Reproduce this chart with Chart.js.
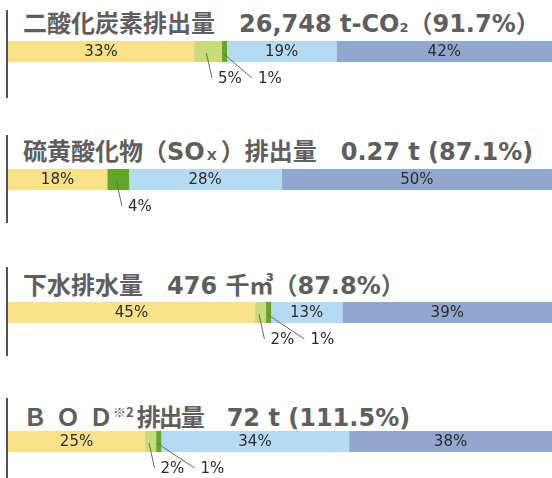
<!DOCTYPE html>
<html lang="ja">
<head>
<meta charset="utf-8">
<script src="https://cdn.jsdelivr.net/npm/chart.js@4"></script>
<style>
  body { margin: 0; width: 552px; height: 478px; background: #fff; overflow: hidden; position: relative; }
  .vline { position: absolute; left: 6px; width: 2px; background: #555; }
  .titulo { position: absolute; left: 23px; white-space: nowrap; color: #5e5e5e; font-size: 24px; line-height: 28px; font-family: "Noto Sans CJK JP"; font-weight: 700; }
  .num { font-family: "DejaVu Sans"; font-weight: 700; }
  .sub { font-family: "DejaVu Sans"; font-weight: 700; font-size: 13px; }
  .sup { font-family: "Noto Sans CJK JP"; font-weight: 700; font-size: 13px; vertical-align: 9px; }
  canvas { position: absolute; left: 0; }
</style>
</head>
<body>

<div class="vline" style="top:10px;height:88px"></div>
<div class="titulo" style="top:8px">二酸化炭素排出量　<span class="num">26,748 t-CO</span><span class="sub">2</span>（<span class="num">91.7%</span>）</div>
<canvas id="grafico1" width="552" height="60" style="top:41px"></canvas>

<div class="vline" style="top:135px;height:88px"></div>
<div class="titulo" style="top:136px">硫黄酸化物（<span class="num">SO</span><span class="sub" style="padding:0 4px 0 2px">X</span>）排出量　<span class="num">0.27 t (87.1%)</span></div>
<canvas id="grafico2" width="552" height="60" style="top:169px"></canvas>

<div class="vline" style="top:267px;height:89px"></div>
<div class="titulo" style="top:270px">下水排水量　<span class="num">476 </span>千㎥（<span class="num">87.8%</span>）</div>
<canvas id="grafico3" width="552" height="60" style="top:302px"></canvas>

<div class="vline" style="top:398px;height:80px"></div>
<div class="titulo" style="top:398px"><span style="letter-spacing:9px">ＢＯ</span>Ｄ<span class="sup">※2</span><span style="letter-spacing:-2px;margin-left:3px">排出量</span>　<span class="num">72 t (111.5%)</span></div>
<canvas id="grafico4" width="552" height="60" style="top:431px"></canvas>

<script>
const segmentos = ['区分1', '区分2', '区分3', '区分4', '区分5'];
const cores = ['#f9e18a', '#c8da7a', '#62a62a', '#b7daf3', '#92a7cf'];

// larguras (% da barra) e os rótulos impressos
const co2Valores = [34.2, 5.1, 0.9, 20.2, 39.6];
const co2Rotulos = ['33%', '5%', '1%', '19%', '42%'];

const soxValores = [18.2, 0, 4.0, 28.1, 49.7];
const soxRotulos = ['18%', '', '4%', '28%', '50%'];

const aguaValores = [45.4, 2.0, 0.9, 13.2, 38.5];
const aguaRotulos = ['45%', '2%', '1%', '13%', '39%'];

const bodValores = [25.2, 2.0, 0.9, 34.6, 37.3];
const bodRotulos = ['25%', '2%', '1%', '34%', '38%'];

const rotulosPlugin = {
  id: 'rotulos',
  afterDatasetsDraw(chart) {
    const ctx = chart.ctx;
    const textos = chart.options.plugins.rotulos.textos;
    let proxX = null;
    ctx.save();
    ctx.font = '15px "DejaVu Sans"';
    ctx.textBaseline = 'middle';
    chart.data.datasets.forEach((ds, i) => {
      const v = ds.data[0];
      if (!textos[i] || v === 0) return;
      const bar = chart.getDatasetMeta(i).data[0];
      const meio = (bar.base + bar.x) / 2;
      const topo = bar.y - bar.height / 2;
      const baixo = bar.y + bar.height / 2;
      if (v >= 6) {
        ctx.textAlign = 'center';
        ctx.fillStyle = '#2b2b2b';
        ctx.fillText(textos[i], meio, bar.y + 1);
      } else {
        const tx = proxX === null ? meio + 10 : proxX + 40;
        ctx.strokeStyle = '#666';
        ctx.lineWidth = 1;
        ctx.beginPath();
        ctx.moveTo(meio - 1.5, topo + 12);
        ctx.lineTo(tx - 6, baixo + 16);
        ctx.stroke();
        ctx.textAlign = 'left';
        ctx.fillStyle = '#2b2b2b';
        ctx.fillText(textos[i], tx, baixo + 17);
        proxX = tx;
      }
    });
    ctx.restore();
  }
};

function criarBarra(id, valores, rotulos) {
  new Chart(document.getElementById(id), {
    type: 'bar',
    data: {
      labels: [''],
      datasets: valores.map((v, i) => ({
        label: segmentos[i],
        data: [v],
        backgroundColor: cores[i],
        borderWidth: 0,
        barPercentage: 1,
        categoryPercentage: 1
      }))
    },
    options: {
      indexAxis: 'y',
      responsive: false,
      animation: false,
      layout: { padding: { left: 8, right: 0, top: 0, bottom: 39 } },
      scales: {
        x: { stacked: true, min: 0, max: 100, display: false },
        y: { stacked: true, display: false }
      },
      plugins: {
        legend: { display: false },
        tooltip: { enabled: false },
        rotulos: { textos: rotulos }
      }
    },
    plugins: [rotulosPlugin]
  });
}

criarBarra('grafico1', co2Valores, co2Rotulos);
criarBarra('grafico2', soxValores, soxRotulos);
criarBarra('grafico3', aguaValores, aguaRotulos);
criarBarra('grafico4', bodValores, bodRotulos);
</script>
</body>
</html>
